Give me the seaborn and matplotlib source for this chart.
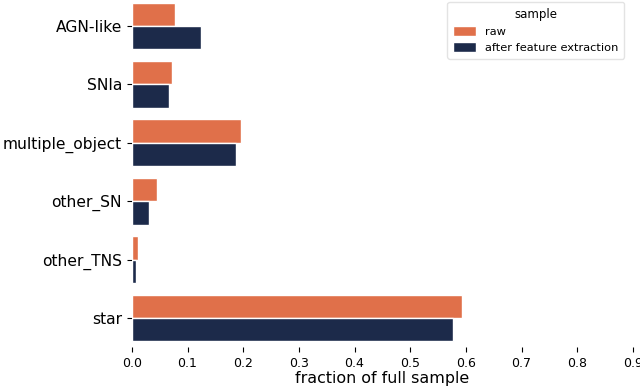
import matplotlib
matplotlib.use("Agg")
import matplotlib.pyplot as plt
import pandas as pd
import seaborn as sns

# Class fractions
classes = ["AGN-like", "SNIa", "multiple_object", "other_SN", "other_TNS", "star"]
raw_frac = [0.077, 0.072, 0.196, 0.045, 0.011, 0.593]
extracted_frac = [0.125, 0.067, 0.187, 0.031, 0.007, 0.577]
samples = ["raw", "after feature extraction"]
colors = ["#E0704A", "#1C2A4A"]
xticks = [0.0, 0.1, 0.2, 0.3, 0.4, 0.5, 0.6, 0.7, 0.8, 0.9]


def main():
    df = pd.DataFrame({
        "class": classes * 2,
        "fraction": raw_frac + extracted_frac,
        "sample": [samples[0]] * len(classes) + [samples[1]] * len(classes),
    })

    sns.set_style("ticks")
    plt.rcParams["font.family"] = ["DejaVu Sans"]
    plt.rcParams["text.color"] = "black"
    plt.rcParams["axes.labelcolor"] = "black"

    fig = plt.figure(figsize=(6.4, 3.87), dpi=100)
    ax = fig.add_axes([0.206, 0.1028, 0.783, 0.9054])

    sns.barplot(data=df, x="fraction", y="class", hue="sample",
                order=classes, hue_order=samples, palette=colors,
                saturation=1, orient="h", ax=ax)

    sns.despine(ax=ax, left=True, bottom=True)
    ax.set_xlim(0, 0.9)
    ax.set_xticks(xticks)
    ax.set_xticklabels([f"{t:.1f}" for t in xticks], fontsize=9)
    ax.tick_params(axis="both", length=3.5, width=0.8, colors="black")
    ax.tick_params(axis="y", labelsize=11.2)
    ax.set_xlabel("fraction of full sample", fontsize=11.4, labelpad=1)
    ax.set_ylabel("")

    leg = ax.legend(title="sample", loc="upper right", fontsize=8.2,
                    title_fontsize=8.5, frameon=True, borderaxespad=0,
                    bbox_to_anchor=(0.982, 0.985), labelspacing=0.45,
                    borderpad=0.5, handleheight=1.0, handlelength=2.0)
    leg.get_frame().set_edgecolor("#dddddd")

    fig.savefig("out.png", dpi=100)
    plt.close(fig)


if __name__ == "__main__":
    main()
